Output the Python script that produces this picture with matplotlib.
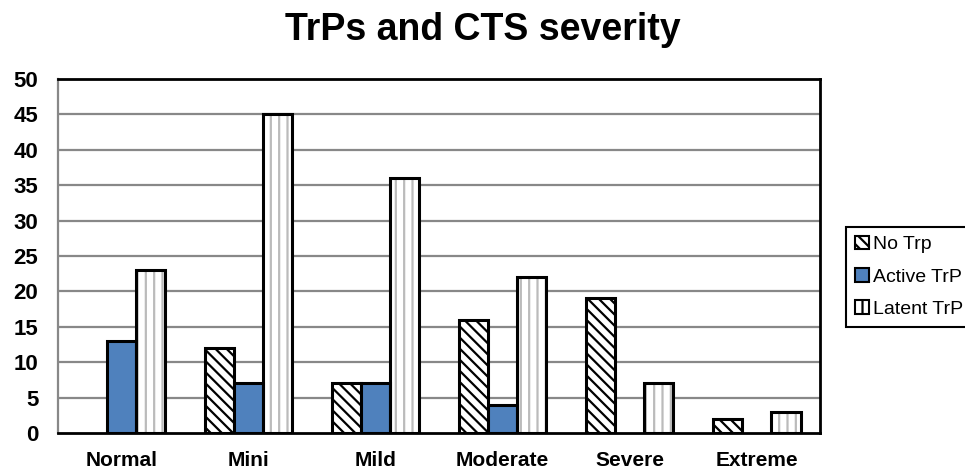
import numpy as np
import matplotlib
matplotlib.use("Agg")
import matplotlib.pyplot as plt
from matplotlib.patches import Patch

plt.rcParams['font.family'] = ['Liberation Sans', 'DejaVu Sans']
plt.rcParams['hatch.linewidth'] = 1.6

# data
categories = ['Normal', 'Mini', 'Mild', 'Moderate', 'Severe', 'Extreme']
series_names = ['No Trp', 'Active TrP', 'Latent TrP']
no_trp = [0, 12, 7, 16, 19, 2]
active_trp = [13, 7, 7, 4, 0, 0]
latent_trp = [23, 45, 36, 22, 7, 3]
y_ticks = [0, 5, 10, 15, 20, 25, 30, 35, 40, 45, 50]

BLUE = '#4F81BD'
W = 0.23

fig = plt.figure(figsize=(9.65, 4.76), dpi=100)
ax = fig.add_axes([0.060, 0.0903, 0.790, 0.744])

x = np.arange(len(categories))

# grid
for t in y_ticks[1:-1]:
    ax.axhline(t, color='#888888', lw=1.6, zorder=0)

def draw(xpos, vals, face, hatch, hcolor):
    for xi, v in zip(xpos, vals):
        if v <= 0:
            continue
        if hatch:
            ax.bar(xi, v, W, color='white', edgecolor=hcolor, hatch=hatch, lw=0, zorder=2)
            ax.bar(xi, v, W, fill=False, edgecolor='black', lw=2.2, zorder=3)
        else:
            ax.bar(xi, v, W, color=face, edgecolor='black', lw=2.2, zorder=3)

draw(x - W, no_trp, 'white', '\\\\\\', 'black')
draw(x, active_trp, BLUE, None, None)
draw(x + W, latent_trp, 'white', '||', '#bbbbbb')

ax.set_xlim(-0.5, len(categories) - 0.5)
ax.set_ylim(0, 50)
ax.set_yticks(y_ticks)
ax.set_yticklabels([str(t) for t in y_ticks], fontsize=16, fontweight='bold')
ax.set_xticks(x)
ax.set_xticklabels(categories, fontsize=15, fontweight='bold')
ax.tick_params(axis='y', length=0, pad=14)
ax.tick_params(axis='x', length=0, pad=13)

for s in ['top', 'right', 'bottom']:
    ax.spines[s].set_color('black')
    ax.spines[s].set_linewidth(2)
ax.spines['left'].set_color('#888888')
ax.spines['left'].set_linewidth(1.6)

fig.suptitle('TrPs and CTS severity', x=0.5, y=0.975, fontsize=27, fontweight='bold')

handles = [Patch(facecolor='white', edgecolor='black', hatch='\\\\\\', lw=1.5),
           Patch(facecolor=BLUE, edgecolor='black', lw=1.5),
           Patch(facecolor='white', edgecolor='black', hatch='||', lw=1.5)]
leg = fig.legend(handles, series_names, loc='upper left', bbox_to_anchor=(0.877, 0.523),
                 fontsize=14, handlelength=0.7, handleheight=0.7, handletextpad=0.2,
                 labelspacing=0.75, borderpad=0.45, fancybox=False, framealpha=1,
                 borderaxespad=0)
leg.get_frame().set_edgecolor('black')
leg.get_frame().set_linewidth(1.5)

fig.savefig('out.png', dpi=100)
